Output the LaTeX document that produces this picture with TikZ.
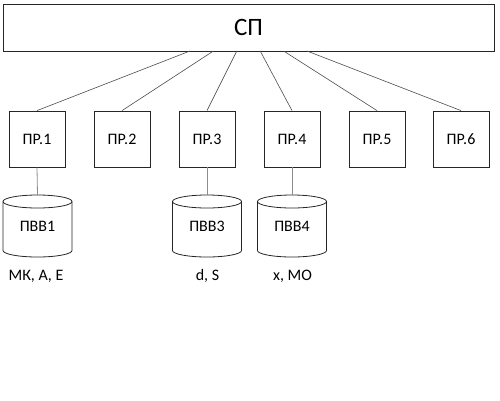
\documentclass[tikz,border=0pt]{standalone}
\usepackage{fontspec}
\setmainfont{Carlito}
\usetikzlibrary{shapes.geometric}
\begin{document}
\begin{tikzpicture}[x=1pt,y=-1pt,
  box/.style={draw=black!85,line width=0.8pt,minimum width=56pt,minimum height=56pt,inner sep=0pt,font=\fontsize{16}{19}\selectfont},
  conn/.style={draw=black!70,line width=0.6pt},
  vconn/.style={draw=black!45,line width=0.8pt},
  lbl/.style={inner sep=0pt,font=\fontsize{16}{19}\selectfont},
  cyl/.style={draw=black!85,line width=0.8pt}]
\useasboundingbox (0,0) rectangle (500,400);
\node[draw=black!85,line width=0.8pt,minimum width=491pt,minimum height=47pt,inner sep=0pt,font=\fontsize{25}{29}\selectfont] (sp) at (248.5,27.5) {СП};
\foreach \i/\x in {1/37,2/122,3/207,4/292,5/377,6/461}{
  \node[box] (p\i) at (\x,139) {ПР.\i};
}
\foreach \i/\x in {1/190,2/213.4,3/236.8,4/260.2,5/283.6,6/307}{
  \coordinate (s\i) at (\x,51);
  \draw[conn] (s\i) -- (p\i.north);
}
% cylinders
\foreach \i/\x in {1/37.5,3/207,4/292}{
  \coordinate (c\i) at (\x,201.5);
  \draw[cyl] (c\i) ellipse [x radius=34.5pt,y radius=6.5pt];
  \draw[cyl] ([xshift=-34.5pt]c\i) -- ++(0,49) arc[start angle=180,end angle=360,x radius=34.5pt,y radius=6.5pt] -- ++(0,-49);
  \node[lbl] (v\i) at (\x,226) {ПВВ\i};
  \draw[vconn] (p\i.south) -- ([yshift=6.5pt]c\i);
}
\node[lbl] (l1) at (36,276) {МК, А, Е};
\node[lbl] (l3) at (207.5,276) {d, S};
\node[lbl] (l4) at (292.5,276) {x, МО};
\end{tikzpicture}
\end{document}
